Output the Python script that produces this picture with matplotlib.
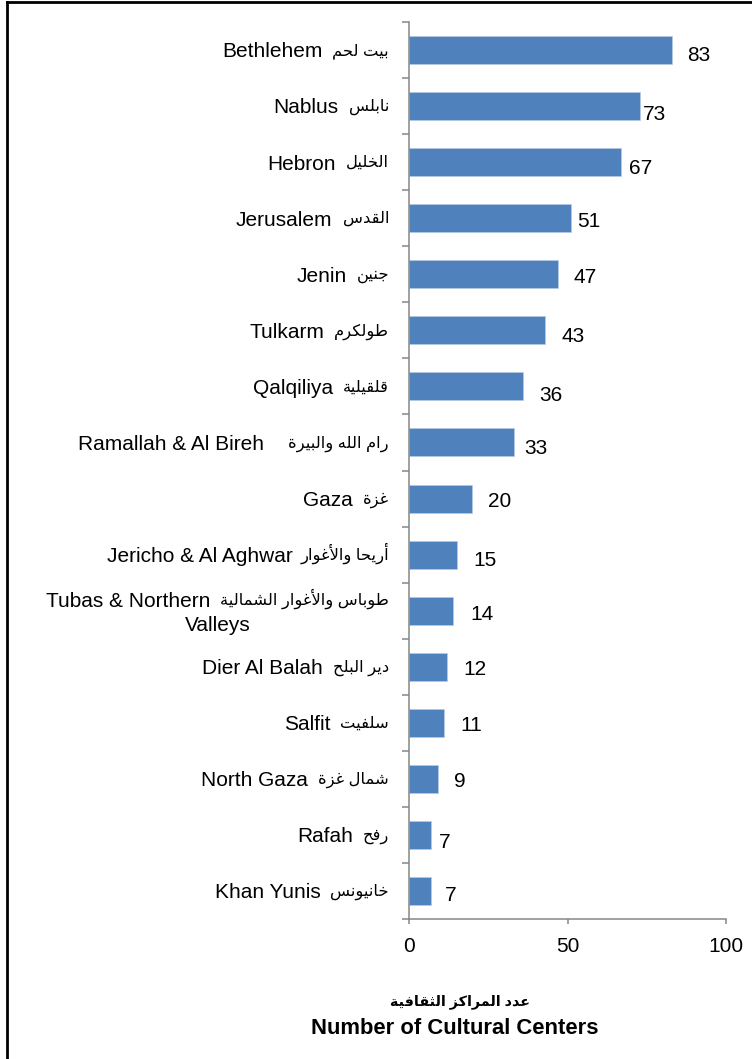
import matplotlib
matplotlib.use("Agg")
import matplotlib.pyplot as plt
import matplotlib.transforms as mtransforms
from matplotlib.lines import Line2D

# ---------------- data ----------------
names_en = ["Bethlehem", "Nablus", "Hebron", "Jerusalem", "Jenin", "Tulkarm",
            "Qalqiliya", "Ramallah & Al Bireh", "Gaza", "Jericho & Al Aghwar",
            "Tubas & Northern\nValleys", "Dier Al Balah", "Salfit", "North Gaza",
            "Rafah", "Khan Yunis"]
names_ar = ["بيت لحم", "نابلس", "الخليل", "القدس", "جنين", "طولكرم",
            "قلقيلية", "رام الله والبيرة", "غزة", "أريحا والأغوار",
            "طوباس والأغوار الشمالية", "دير البلح", "سلفيت", "شمال غزة",
            "رفح", "خانيونس"]
values = [83, 73, 67, 51, 47, 43, 36, 33, 20, 15, 14, 12, 11, 9, 7, 7]
xticks = [0, 50, 100]
xlabel_ar = "عدد المراكز الثقافية"
xlabel_en = "Number of Cultural Centers"

# label offsets (pixels) from bar end: gap to the right, and downward shift
label_gap = [15, 2, 8, 6, 16, 16, 16, 11, 16, 17, 17, 16, 17, 16, 8, 14]
label_drop = [4, 7, 4, 1, 1, 4, 7, 4, 1, 4, 2, 1, 1, 1, 6, 3]
# gap (pixels) between English and Arabic parts of each category label
name_gap = [10, 10, 10, 10, 10, 10, 10, 24, 10, 8, 10, 10, 10, 10, 10, 10]

# ---------------- minimal Arabic shaping (presentation forms, visual order) -------
FORMS = {
    'ء': (0xFE80, 1), 'آ': (0xFE81, 2), 'أ': (0xFE83, 2), 'ؤ': (0xFE85, 2),
    'إ': (0xFE87, 2), 'ئ': (0xFE89, 4), 'ا': (0xFE8D, 2), 'ب': (0xFE8F, 4),
    'ة': (0xFE93, 2), 'ت': (0xFE95, 4), 'ث': (0xFE99, 4), 'ج': (0xFE9D, 4),
    'ح': (0xFEA1, 4), 'خ': (0xFEA5, 4), 'د': (0xFEA9, 2), 'ذ': (0xFEAB, 2),
    'ر': (0xFEAD, 2), 'ز': (0xFEAF, 2), 'س': (0xFEB1, 4), 'ش': (0xFEB5, 4),
    'ص': (0xFEB9, 4), 'ض': (0xFEBD, 4), 'ط': (0xFEC1, 4), 'ظ': (0xFEC5, 4),
    'ع': (0xFEC9, 4), 'غ': (0xFECD, 4), 'ف': (0xFED1, 4), 'ق': (0xFED5, 4),
    'ك': (0xFED9, 4), 'ل': (0xFEDD, 4), 'م': (0xFEE1, 4), 'ن': (0xFEE5, 4),
    'ه': (0xFEE9, 4), 'و': (0xFEED, 2), 'ى': (0xFEEF, 2), 'ي': (0xFEF1, 4),
}
LAM_ALEF = {'آ': 0xFEF5, 'أ': 0xFEF7, 'إ': 0xFEF9, 'ا': 0xFEFB}


def shape_ar(text):
    units = []
    i = 0
    while i < len(text):
        c = text[i]
        if c == 'ل' and i + 1 < len(text) and text[i + 1] in LAM_ALEF:
            units.append(('LA', text[i + 1]))
            i += 2
        else:
            units.append(('C', c))
            i += 1

    def joins_next(u):
        return u[0] == 'C' and u[1] in FORMS and FORMS[u[1]][1] == 4

    def is_joining(u):
        return u[0] == 'LA' or (u[1] in FORMS and FORMS[u[1]][1] > 1)

    out = []
    for k, u in enumerate(units):
        prev = units[k - 1] if k > 0 else None
        nxt = units[k + 1] if k + 1 < len(units) else None
        cp = prev is not None and joins_next(prev)
        if u[0] == 'LA':
            out.append(chr(LAM_ALEF[u[1]] + (1 if cp else 0)))
            continue
        c = u[1]
        if c not in FORMS:
            out.append(c)
            continue
        base, n = FORMS[c]
        if n == 1:
            out.append(chr(base))
            continue
        cn = n == 4 and nxt is not None and is_joining(nxt)
        if cp and cn:
            off = 3
        elif cp:
            off = 1
        elif cn:
            off = 2
        else:
            off = 0
        out.append(chr(base + off))
    return ''.join(reversed(out))


# ---------------- plot ----------------
plt.rcParams['font.family'] = ['Liberation Sans', 'DejaVu Sans']
FS = 15
FS_AR = 11.8
AXC = '#868686'
BAR = '#4F81BD'

W, H = 752, 1059
fig = plt.figure(figsize=(W / 100, H / 100), dpi=100)
ax_l, ax_r, ax_t, ax_b = 409, 726, 22, 919
ax = fig.add_axes([ax_l / W, 1 - ax_b / H, (ax_r - ax_l) / W, (ax_b - ax_t) / H])

ypos = list(range(len(values)))
ax.barh(ypos, values, height=0.5, color=BAR, edgecolor='#B9CDE5', linewidth=0.4)
ax.set_xlim(0, 100)
ax.set_ylim(len(values) - 0.5, -0.5)

ax.set_yticks([])
ax.set_yticks([i - 0.5 for i in range(len(values) + 1)], minor=True)
ax.tick_params(axis='y', which='minor', length=5, width=1.1, color=AXC, direction='out')

ax.set_xticks(xticks)
ax.set_xticklabels([str(t) for t in xticks], fontsize=FS)
ax.tick_params(axis='x', which='major', length=3.6, width=1.1, color=AXC,
               direction='out', pad=9)

for s in ['top', 'right']:
    ax.spines[s].set_visible(False)
for s in ['left', 'bottom']:
    ax.spines[s].set_color(AXC)
    ax.spines[s].set_linewidth(1.1)

# value labels
for i, v in enumerate(values):
    ax.annotate(str(v), xy=(v, i), xytext=(label_gap[i], -(label_drop[i] + 7.4)),
                textcoords='offset pixels', ha='left', va='baseline', fontsize=FS)

# category labels: English part then Arabic part, right-aligned next to the axis
renderer = fig.canvas.get_renderer()
blend = mtransforms.blended_transform_factory(ax.transAxes, ax.transData)
RIGHT = 389 - ax_l  # pixels relative to axis line
AR_RAISE = 2.5
for i, (en, ar) in enumerate(zip(names_en, names_ar)):
    lines = en.split('\n')
    base_dy = -7.4 if len(lines) == 1 else 3.6
    tr_ar = mtransforms.offset_copy(blend, fig=fig, x=RIGHT, y=base_dy + AR_RAISE,
                                    units='dots')
    t_ar = ax.text(0, i, shape_ar(ar), transform=tr_ar, ha='right', va='baseline',
                   fontsize=FS_AR)
    w_ar = t_ar.get_window_extent(renderer).width
    x_en = RIGHT - w_ar - name_gap[i]
    tr_en = mtransforms.offset_copy(blend, fig=fig, x=x_en, y=base_dy, units='dots')
    t_en = ax.text(0, i, lines[0], transform=tr_en, ha='right', va='baseline', fontsize=FS)
    if len(lines) > 1:
        w_en = t_en.get_window_extent(renderer).width
        left = x_en - w_en
        xc = (left + RIGHT) / 2
        for k, extra in enumerate(lines[1:]):
            tr_x = mtransforms.offset_copy(blend, fig=fig, x=xc, y=base_dy - 24 * (k + 1),
                                           units='dots')
            ax.text(0, i, extra, transform=tr_x, ha='center', va='baseline', fontsize=FS)

fig.text(460 / W, 1 - 1002 / H, shape_ar(xlabel_ar), fontsize=10.3, fontweight='bold',
         ha='center', va='center')
fig.text(455 / W, 1 - 1028 / H, xlabel_en, fontsize=15.8, fontweight='bold',
         ha='center', va='center')

# chart border (left and top edges visible)
bx, by = 7 / W, 1 - 2 / H
fig.add_artist(Line2D([bx, bx], [-0.01, by], transform=fig.transFigure, color='black',
                      linewidth=2, solid_capstyle='projecting'))
fig.add_artist(Line2D([bx, 1.01], [by, by], transform=fig.transFigure, color='black',
                      linewidth=2, solid_capstyle='projecting'))

fig.savefig('out.png', dpi=100, facecolor='white')
